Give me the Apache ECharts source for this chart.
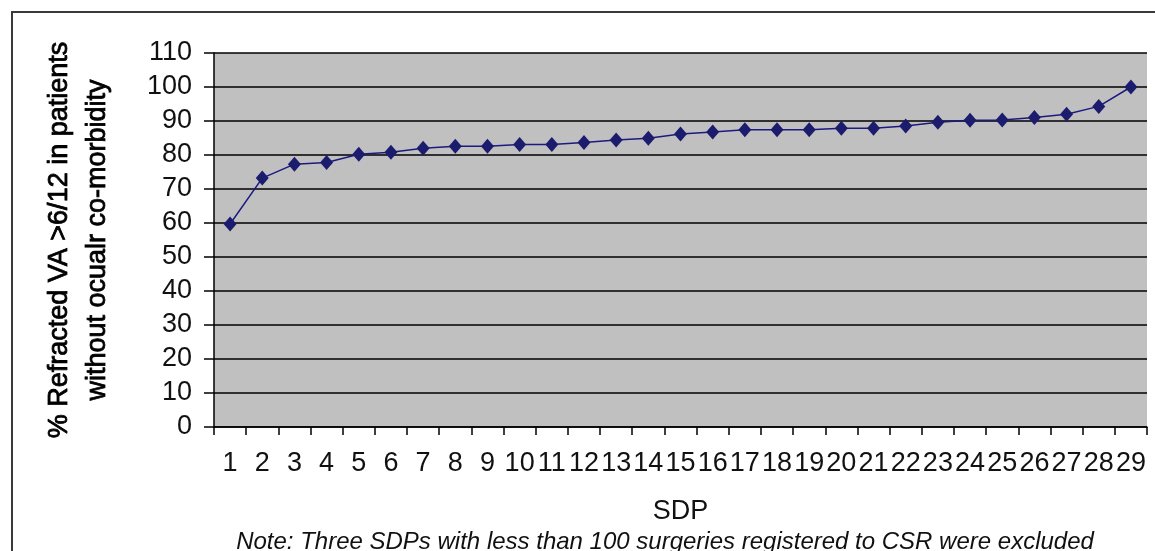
<!DOCTYPE html>
<html>
<head>
<meta charset="utf-8">
<style>
  html, body { margin: 0; padding: 0; background: #fff; }
  #chart { width: 1155px; height: 551px; }
</style>
<script src="https://cdn.jsdelivr.net/npm/echarts@6/dist/echarts.min.js"></script>
</head>
<body>
<div id="chart"></div>
<script>
// Service delivery points (SDP), ranked by outcome
const sdpLabels = ['1','2','3','4','5','6','7','8','9','10','11','12','13','14','15',
  '16','17','18','19','20','21','22','23','24','25','26','27','28','29'];

// % refracted VA > 6/12 in patients without ocular co-morbidity
const refractedVA = [59.7, 73.2, 77.3, 77.8, 80.2, 80.8, 82.0, 82.6, 82.6, 83.1,
  83.1, 83.7, 84.4, 84.9, 86.2, 86.8, 87.4, 87.4, 87.4, 87.9,
  87.9, 88.5, 89.6, 90.2, 90.3, 91.0, 92.0, 94.3, 100.0];

const yMin = 0, yMax = 110, yStep = 10;

const yTitle = '% Refracted VA >6/12 in patients\nwithout ocualr co-morbidity';
const xTitle = 'SDP';
const noteText = 'Note: Three SDPs with less than 100 surgeries registered to CSR were excluded';

const font = '"Liberation Sans", Arial, sans-serif';

const chart = echarts.init(document.getElementById('chart'), null, { renderer: 'canvas' });

chart.setOption({
  animation: false,
  backgroundColor: '#ffffff',
  textStyle: { fontFamily: font },
  grid: {
    left: 214, right: 8, top: 53, bottom: 124,
    show: true, backgroundColor: '#c0c0c0', borderWidth: 0
  },
  graphic: [
    {
      type: 'rect', silent: true, z: -1,
      shape: { x: 12, y: 12, width: 1160, height: 560 },
      style: { fill: 'none', stroke: '#3a3a3a', lineWidth: 2 }
    },
    {
      type: 'text', silent: true,
      style: {
        x: 665, y: 542,
        text: noteText, fill: '#111', fontFamily: font,
        fontSize: 24, fontStyle: 'italic',
        align: 'center', verticalAlign: 'middle'
      }
    }
  ],
  xAxis: {
    type: 'category',
    data: sdpLabels,
    boundaryGap: true,
    name: xTitle,
    nameLocation: 'middle',
    nameGap: 71,
    nameTextStyle: { fontSize: 27, color: '#111', fontFamily: font },
    axisLine: { lineStyle: { color: '#000', width: 1.5 } },
    axisTick: { show: true, alignWithLabel: false, length: 8, lineStyle: { color: '#000', width: 1.5 } },
    axisLabel: {
      interval: 0, margin: 23, fontSize: 27, color: '#111', fontFamily: font
    },
    splitLine: { show: false }
  },
  yAxis: {
    type: 'value',
    min: yMin, max: yMax, interval: yStep,
    name: yTitle,
    nameLocation: 'middle',
    nameRotate: 90,
    nameGap: 97,
    nameTextStyle: {
      fontSize: 27, lineHeight: 38, color: '#000', fontFamily: font, align: 'center',
      textBorderColor: '#000', textBorderWidth: 0.8
    },
    axisLine: { show: true, lineStyle: { color: '#000', width: 1.5 } },
    axisTick: { show: true, length: 10, lineStyle: { color: '#000', width: 1.5 } },
    axisLabel: { margin: 22, fontSize: 27, color: '#111', fontFamily: font },
    splitLine: { show: true, lineStyle: { color: '#000', width: 1.5 } }
  },
  series: [{
    type: 'line',
    data: refractedVA,
    symbol: 'diamond',
    symbolSize: [13, 15],
    showSymbol: true,
    lineStyle: { color: '#1a1a80', width: 1.5 },
    itemStyle: { color: '#1c1c6e' },
    z: 5
  }]
});
</script>
</body>
</html>
